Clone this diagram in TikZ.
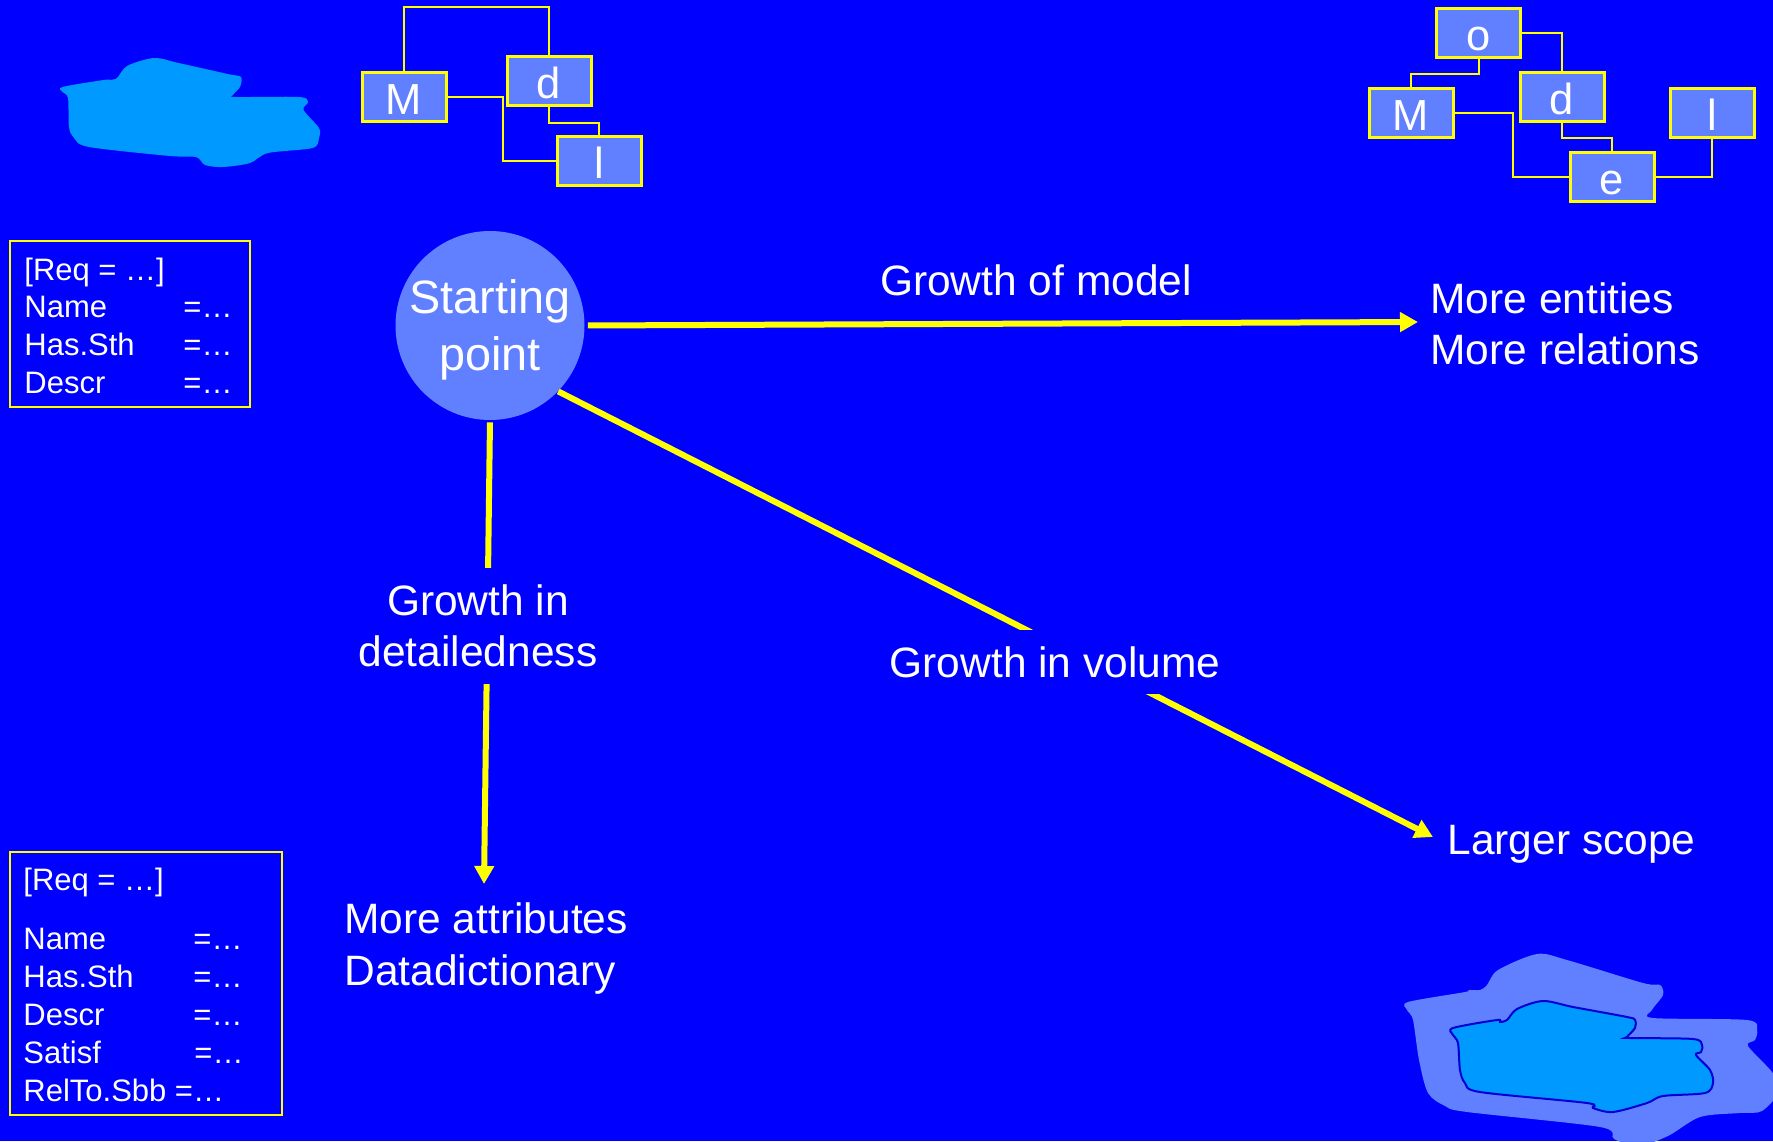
\documentclass[tikz,border=0pt]{standalone}
\usepackage{fontspec}
\setmainfont{Liberation Sans}
\usetikzlibrary{arrows.meta}
\definecolor{bg}{RGB}{0,0,255}
\definecolor{pale}{RGB}{96,128,255}
\definecolor{azure}{RGB}{0,153,255}
\definecolor{rim}{RGB}{0,0,215}
\definecolor{ylw}{RGB}{255,255,0}

\begin{document}
\begin{tikzpicture}[x=0.5pt,y=-0.5pt,
  every node/.style={text=white, inner sep=0pt},
  big/.style={font=\fontsize{21.25pt}{25.5pt}\selectfont},
  small/.style={font=\fontsize{15.5pt}{18pt}\selectfont, anchor=base west},
  letterbox/.style={draw=ylw, line width=1.5pt, fill=pale, minimum width=42pt,
    minimum height=24.5pt, text height=17.5pt, text depth=0pt,
    font=\fontsize{21.75pt}{25pt}\selectfont},
  link/.style={draw=ylw, line width=1pt},
  tablebox/.style={draw=ylw, line width=1.25pt},
  growth/.style={draw=ylw, line width=3pt, -{Triangle[length=9pt,width=9.5pt]}},
  gap/.style={fill=bg, big, align=center},
]
% canvas
\fill[bg] (0,0) rectangle (1773,1141);
\useasboundingbox (0,0) rectangle (1773,1141);

% small lake, top left
\fill[azure] plot[smooth cycle, tension=0.5] coordinates {(62.5,87) (103.6,80) (116,79) (127,66) (154,58) (178.6,63) (227.7,74) (241,77) (240,87) (233,95) (236,97) (299,97) (308,102) (303.6,110) (319,128) (319,138) (312.5,148) (268,153) (250,163) (223,167) (205,165) (196,157) (170,156) (89,147) (74,138) (69,127) (68,98) (62.5,92)};

% enlarged lake, bottom right
\begin{scope}
\clip (0,0) rectangle (1773,1141);
\fill[pale] plot[smooth cycle, tension=0.5] coordinates {(1408,1002) (1465,992) (1468,990) (1480,990) (1487,985) (1498,970) (1537,954) (1567,960) (1643,983) (1660,985) (1663,995) (1652,1010) (1653,1018) (1747,1020) (1757,1030) (1755,1040) (1748,1046) (1772,1072) (1780,1090) (1762,1111) (1740,1113) (1700,1117) (1668,1136) (1638,1146) (1614,1139) (1600,1127) (1467,1112) (1445,1106) (1428,1093) (1419,1060) (1413,1020) (1407,1010)};
\filldraw[fill=azure, draw=rim, line width=1pt] plot[smooth cycle, tension=0.5] coordinates {(1453,1028) (1497,1020) (1500,1022) (1507,1020) (1517,1009) (1543,1001) (1573,1007) (1627,1017) (1635,1020) (1635,1028) (1627,1037) (1630,1038) (1693,1039) (1702,1045) (1701,1052) (1696,1055) (1710,1070) (1713,1083) (1705,1093) (1663,1096) (1647,1103) (1613,1112) (1593,1108) (1587,1103) (1480,1092) (1465,1083) (1460,1070) (1458,1043) (1453,1035)};
\end{scope}

% small model, top left
\node[letterbox] (m1) at (404,96.5) {M};
\node[letterbox] (d1) at (549,81) {d};
\node[letterbox] (l1) at (599,160.5) {l};
\draw[link] (m1.north) -- ++(0,-64) -| (d1.north);
\draw[link] (m1.east) -- ++(55,0) |- (l1.west);
\draw[link] (d1.south) -- ++(0,15.5) -| (l1.north);

% larger model, top right
\node[letterbox] (o2) at (1478.5,32.5) {o};
\node[letterbox] (m2) at (1411,112.5) {M};
\node[letterbox] (d2) at (1562,96.5) {d};
\node[letterbox] (l2) at (1712,112.5) {l};
\node[letterbox] (e2) at (1612,176.5) {e};
\draw[link] (o2.south) -- ++(0,15.5) -| (m2.north);
\draw[link] (o2.east) -| (d2.north);
\draw[link] (m2.east) -- ++(58.5,0) |- (e2.west);
\draw[link] (d2.south) -- ++(0,15.5) -| (e2.north);
\draw[link] (e2.east) -| (l2.south);

% requirement records
\node[tablebox, minimum width=120pt, minimum height=83pt] (req1) at (130,324) {};
\node[small] (r1a) at (24,280) {[Req = …]};
\node[small] (r1b) at (24,317) {Name};
\node[small] (r1c) at (24,355) {Has.Sth};
\node[small] (r1d) at (24,393) {Descr};
\node[small] (r1e) at (183,317) {=…};
\node[small] (r1f) at (183,355) {=…};
\node[small] (r1g) at (183,393) {=…};

\node[tablebox, minimum width=136pt, minimum height=131.5pt] (req2) at (146,983.5) {};
\node[small] (r2a) at (23,890) {[Req = …]};
\node[small] (r2b) at (23,949) {Name};
\node[small] (r2c) at (23,987) {Has.Sth};
\node[small] (r2d) at (23,1025) {Descr};
\node[small] (r2e) at (23,1063) {Satisf};
\node[small] (r2f) at (23,1101) {RelTo.Sbb =…};
\node[small] (r2g) at (193,949) {=…};
\node[small] (r2h) at (193,987) {=…};
\node[small] (r2i) at (193,1025) {=…};
\node[small] (r2j) at (194,1063) {=…};

% starting point and growth directions
\node[circle, fill=pale, minimum size=94.5pt, align=center, text depth=-2.3pt,
  font=\fontsize{23.4pt}{28.5pt}\selectfont] (sp) at (490,325.5) {Starting\\point};

\coordinate (tipR) at (1418,322);
\coordinate (tipD) at (484,884);
\coordinate (tipV) at (1433,837);
\draw[growth, shorten <=1.5pt] (sp.east) -- (tipR);
\draw[growth, shorten <=1pt] (sp.south) -- (tipD);
\draw[growth] (sp.-44.6) -- (tipV);

\node[gap, minimum height=58pt] (gd) at (478,626) {Growth in\\detailedness};
\node[gap, minimum height=32pt] (gv) at (1055,662) {Growth in volume};
\node[big, anchor=base] (gm) at (1036,295) {Growth of model};

\node[big, anchor=base west] (me) at (1430,313.5) {More entities};
\node[big, anchor=base west] (mr) at (1430,364.5) {More relations};
\node[big, anchor=base west] (ls) at (1447,854.5) {Larger scope};
\node[big, anchor=base west] (ma) at (344,933.5) {More attributes};
\node[big, anchor=base west] (dd) at (344,985.5) {Datadictionary};
\end{tikzpicture}
\end{document}
